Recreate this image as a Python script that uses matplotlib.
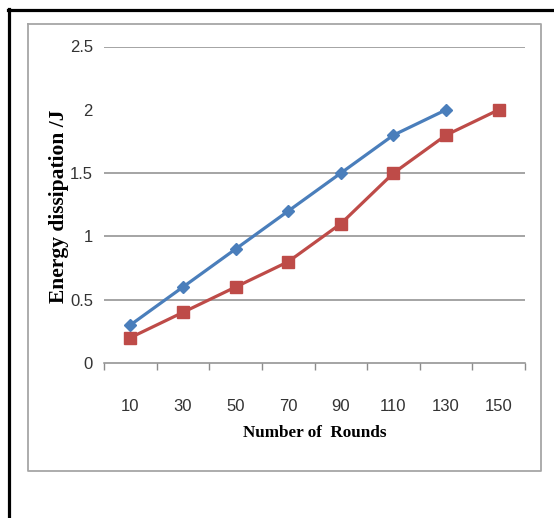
import matplotlib
matplotlib.use("Agg")
import matplotlib.pyplot as plt
from matplotlib.lines import Line2D

# ---- data ----
rounds = [10, 30, 50, 70, 90, 110, 130, 150]
series_a = [0.3, 0.6, 0.9, 1.2, 1.5, 1.8, 2.0]          # blue diamonds
series_b = [0.2, 0.4, 0.6, 0.8, 1.1, 1.5, 1.8, 2.0]     # red squares
tick_labels = ["10", "30", "50", "70", "90", "110", "130", "150"]
y_ticks = [0, 0.5, 1, 1.5, 2, 2.5]
y_tick_labels = ["0", "0.5", "1", "1.5", "2", "2.5"]
grid_levels = [0.5, 1, 1.5, 2.5]

W, H = 554, 518
fig = plt.figure(figsize=(W / 100, H / 100), dpi=100)
fig.patch.set_facecolor("white")

def fx(px):
    return px / W

def fy(py):
    return 1 - py / H

# frames
fig.add_artist(Line2D([fx(8), fx(554)], [fy(9.5), fy(9.5)], color="black", lw=2.3))
fig.add_artist(Line2D([fx(9.3), fx(9.3)], [fy(8.5), fy(518)], color="black", lw=2.3))
fig.add_artist(Line2D([fx(28), fx(541), fx(541), fx(28), fx(28)],
                      [fy(23.5), fy(23.5), fy(471), fy(471), fy(23.5)],
                      color="#a6a6a6", lw=1.3))

left, right, top, bottom = 104, 525, 46.5, 363
ax = fig.add_axes([fx(left), fy(bottom), (right - left) / W, (bottom - top) / H])
ax.set_facecolor("none")

ax.set_xlim(0, 160)
ax.set_ylim(0, 2.5)

for g in grid_levels:
    ax.axhline(g, color="#8c8c8c", lw=1.1, zorder=1)

blue = "#4a7ebb"
red = "#be4b48"
ax.plot(rounds[:len(series_a)], series_a, color=blue, lw=2.3, marker="D",
        markersize=6, markerfacecolor=blue, markeredgecolor=blue, zorder=3, clip_on=False)
ax.plot(rounds, series_b, color=red, lw=2.3, marker="s",
        markersize=8.5, markerfacecolor=red, markeredgecolor=red, zorder=4, clip_on=False)

for s in ["left", "top", "right"]:
    ax.spines[s].set_visible(False)
ax.spines["bottom"].set_color("#8c8c8c")
ax.spines["bottom"].set_linewidth(1.1)

tick_font = ["Liberation Sans Narrow", "Liberation Sans", "DejaVu Sans"]
ax.set_yticks(y_ticks)
ax.set_yticklabels(y_tick_labels, family=tick_font, fontsize=12, color="#333333")
ax.tick_params(axis="y", length=0, pad=8)

ax.set_xticks(rounds)
ax.set_xticklabels(tick_labels, family=tick_font, fontsize=12, color="#333333")
ax.tick_params(axis="x", which="major", length=0, pad=26)
ax.set_xticks([r - 10 for r in rounds] + [rounds[-1] + 10], minor=True)
ax.tick_params(axis="x", which="minor", length=5, width=1, color="#8c8c8c", direction="out")

fig.text(fx(315), fy(433), "Number of  Rounds", family="Liberation Serif",
         fontweight="bold", fontsize=12.3, ha="center", va="center")
fig.text(fx(59), fy(206), "Energy dissipation /J", family="Liberation Serif",
         fontweight="bold", fontsize=15.5, ha="center", va="center", rotation=90)

fig.savefig("out.png", dpi=100, facecolor="white")
